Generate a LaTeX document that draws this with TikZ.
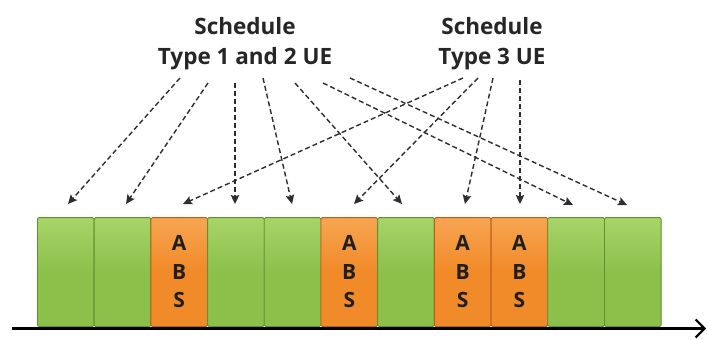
\documentclass[tikz,border=0pt]{standalone}
\usepackage{fontspec}
\setmainfont{Open Sans}
\usetikzlibrary{arrows.meta,calc}
\definecolor{gmain}{HTML}{8CC04B}
\definecolor{gtop}{HTML}{A8D468}
\definecolor{gedge}{HTML}{5E9130}
\definecolor{omain}{HTML}{F18A28}
\definecolor{otop}{HTML}{F7A552}
\definecolor{oedge}{HTML}{B85E18}
\definecolor{dashgray}{HTML}{2E2E2E}
\tikzset{
  slotbox/.style={draw=#1edge, line width=0.9pt, rounded corners=1.5pt,
    top color=#1top, bottom color=#1main, middle color=#1main,
    minimum width=56.7pt, minimum height=109pt, inner sep=0pt, anchor=south west},
  abstext/.style={font=\fontsize{21}{28.5}\selectfont\bfseries, align=center, text=black!88},
  sched/.style={dashgray, line width=1.4pt, dash pattern=on 5pt off 3pt,
    -{Stealth[length=9pt,width=8.5pt,inset=1.5pt]}},
  lbl/.style={font=\fontsize{22.5}{30}\selectfont\bfseries, align=center, text=black!85}
}
\begin{document}
\begin{tikzpicture}[x=1pt,y=-1pt]
\useasboundingbox (0,0) rectangle (707,340);
\fill[white] (0,0) rectangle (707,340);
% labels
\node[lbl] (L) at (245,44) {Schedule\\Type 1 and 2 UE};
\node[lbl] (R) at (492,44) {Schedule\\Type 3 UE};
% blocks
\foreach \i/\c in {0/g,1/g,2/o,3/g,4/g,5/o,6/g,7/o,8/o,9/g,10/g}{
  \node[slotbox=\c] (b\i) at ({37+56.7*\i},327) {};
}
\foreach \i in {2,5,7,8}{
  \node[abstext] at (b\i.center) {A\\B\\S};
}
% axis
\coordinate (ax0) at (12,328.5);
\coordinate (ax1) at (706,328.5);
\draw[line width=3pt, -{Straight Barb[length=9pt,width=18pt,line width=2pt]}] (ax0) -- (ax1);
% start points
\coordinate (s1) at (180,78);
\coordinate (s2) at (208,83);
\coordinate (s3) at (235,83);
\coordinate (s4) at (263,78);
\coordinate (s5) at (295,83);
\coordinate (s6) at (323,83);
\coordinate (s7) at (350,78);
\coordinate (t1) at (463,78);
\coordinate (t2) at (478,78);
\coordinate (t3) at (493,78);
\coordinate (t4) at (520,80);
% arrow tips
\coordinate (e0) at (68,204);
\coordinate (e1) at (126,204);
\coordinate (e2) at (183,204);
\coordinate (e3) at (235,204);
\coordinate (e4) at (292,204);
\coordinate (e5) at (354,204);
\coordinate (e6) at (402,204);
\coordinate (e7) at (465,204);
\coordinate (e8) at (520,204);
\coordinate (e9) at (573,205);
\coordinate (e10) at (627,205);
% connectors
\draw[sched] (s1) -- (e0);
\draw[sched] (s2) -- (e1);
\draw[sched] (s3) -- (e3);
\draw[sched] (s4) -- (e4);
\draw[sched] (s5) -- (e6);
\draw[sched] (s6) -- (e9);
\draw[sched] (s7) -- (e10);
\draw[sched] (t1) -- (e2);
\draw[sched] (t2) -- (e5);
\draw[sched] (t3) -- (e7);
\draw[sched] (t4) -- (e8);
\end{tikzpicture}
\end{document}
